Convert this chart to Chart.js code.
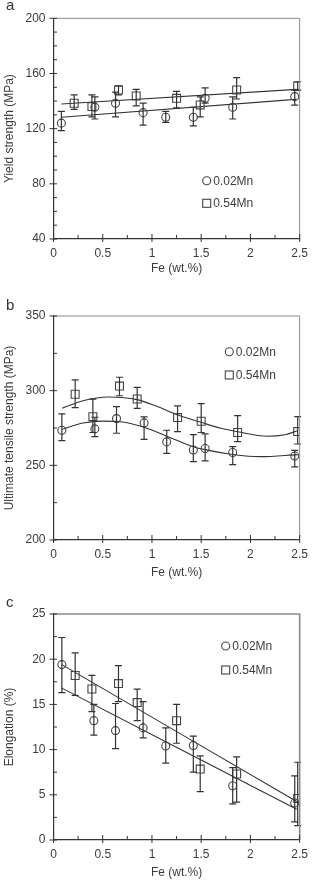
<!DOCTYPE html>
<html lang="en">
<head>
<meta charset="UTF-8">
<title>Fe content vs. yield, UTS and elongation</title>
<style>
  body { margin: 0; background: #fff; font-family: 'Liberation Sans', Arial, sans-serif; }
  #wrap { position: relative; width: 315px; height: 881px; }
  .panel { position: absolute; left: 0; width: 315px; }
  .tag { position: absolute; left: 6px; font-size: 15px; line-height: 16px; color: #333; }
</style>
</head>
<body>
<div id="wrap">
  <div class="panel" style="top:0;height:290px"><canvas id="chartA"></canvas></div>
  <div class="panel" style="top:290px;height:290px"><canvas id="chartB"></canvas></div>
  <div class="panel" style="top:580px;height:301px"><canvas id="chartC"></canvas></div>
  <div class="tag" style="top:-3px">a</div>
  <div class="tag" style="top:297px">b</div>
  <div class="tag" style="top:594px">c</div>
</div>

<script src="https://cdn.jsdelivr.net/npm/chart.js"></script>
<script>
// shared x axis
const feTicks = [0, 0.5, 1, 1.5, 2, 2.5];

// (a) yield strength, MPa
const ysTicks = [40, 80, 120, 160, 200];
const ysFe002 = [0.08, 0.42, 0.63, 0.91, 1.14, 1.42, 1.54, 1.82, 2.45];
const ys002   = [124, 135.5, 138.4, 131.6, 128.3, 128.3, 142, 135.5, 143.2];
const ys002Hi = [132.5, 143, 146.5, 138.5, 132.5, 135.5, 149.5, 143, 148];
const ys002Lo = [118.5, 127, 128.5, 122.5, 124.5, 122, 138.5, 127, 137];
const ysFe054 = [0.21, 0.39, 0.66, 0.84, 1.25, 1.49, 1.86, 2.48];
const ys054   = [138.4, 136, 148, 143.7, 142, 137.2, 148, 151];
const ys054Hi = [144.5, 144.5, 151, 148.5, 147, 143, 157, 154];
const ys054Lo = [134, 128.5, 144.5, 136.5, 135, 128.5, 141.5, 148];
const ysFitFe = [0.08, 2.47];
const ysFit002 = [128.3, 141.3];
const ysFit054 = [137.9, 148.5];

// (b) ultimate tensile strength, MPa
const utsTicks = [200, 250, 300, 350];
const utsFe002 = [0.085, 0.42, 0.64, 0.92, 1.15, 1.42, 1.54, 1.82, 2.45];
const uts002   = [273.5, 274.4, 281.3, 278.4, 265.7, 260.3, 261.3, 258.6, 256.3];
const uts002Hi = [284.4, 282.2, 289.3, 282.4, 273.5, 270.5, 271, 262.5, 260];
const uts002Lo = [266.5, 269.2, 271.5, 267.4, 258, 252.5, 253, 250.5, 249];
const utsFe054 = [0.22, 0.40, 0.67, 0.85, 1.26, 1.50, 1.87, 2.48];
const uts054   = [297.6, 282.6, 303.1, 294.4, 282, 279.5, 272, 272.6];
const uts054Hi = [307.2, 294.4, 309, 302.2, 289.8, 291.3, 283.3, 282.6];
const uts054Lo = [288.6, 272, 296.6, 288.2, 272.6, 272, 265.9, 264.3];
const utsFitFe002 = [0.09, 0.3, 0.5, 0.7, 0.92, 1.15, 1.42, 1.54, 1.82, 2.1, 2.48];
const utsFit002   = [274.2, 278.3, 279.6, 279, 275.5, 269.5, 262.5, 260.5, 257.3, 255.8, 257.2];
const utsFitFe054 = [0.09, 0.3, 0.56, 0.85, 1.05, 1.25, 1.5, 1.7, 1.87, 2.17, 2.35, 2.48];
const utsFit054   = [288.3, 293.3, 295.8, 294, 289.5, 284, 278.8, 274.8, 272.5, 269.5, 270.5, 273.2];

// (c) elongation, %
const elTicks = [0, 5, 10, 15, 20, 25];
const elFe002 = [0.085, 0.41, 0.63, 0.91, 1.14, 1.42, 1.82, 2.45];
const el002   = [19.4, 13.2, 12.1, 12.4, 10.4, 10.45, 6.0, 4.1];
const el002Hi = [22.4, 15.0, 15.1, 15.3, 12.4, 11.5, 8.0, 7.1];
const el002Lo = [16.3, 11.6, 10.1, 11.3, 8.5, 7.5, 4.0, 2.0];
const elFe054 = [0.22, 0.39, 0.66, 0.85, 1.25, 1.49, 1.86, 2.48];
const el054   = [18.2, 16.7, 17.3, 15.2, 13.2, 7.85, 7.3, 4.6];
const el054Hi = [20.7, 18.2, 19.3, 16.7, 15.0, 9.3, 9.2, 8.6];
const el054Lo = [16.0, 14.2, 15.3, 13.2, 10.7, 5.35, 4.2, 1.6];
const elFitFe = [0.085, 2.47];
const elFit002 = [16.8, 3.4];
const elFit054 = [19.4, 4.25];

const seriesNames = ['0.02Mn', '0.54Mn'];

const ink = '#333';
const txt = '#3c3c3c';
const font = { family: "'Liberation Sans', Arial, sans-serif", size: 12 };
const pts = (xs, ys) => xs.map((x, i) => ({ x, y: ys[i] }));

// error bars, frame, ticks and in-plot legend
const panelDeco = {
  id: 'panelDeco',
  afterDatasetsDraw(chart, args, opts) {
    const { ctx, chartArea: a, scales: { x, y } } = chart;
    ctx.save();

    ctx.strokeStyle = ink;
    ctx.lineWidth = 1.2;
    chart.data.datasets.forEach(ds => {
      if (!ds.hi) return;
      ds.data.forEach((p, i) => {
        const px = x.getPixelForValue(p.x);
        const top = y.getPixelForValue(ds.hi[i]);
        const bot = y.getPixelForValue(ds.lo[i]);
        ctx.beginPath();
        ctx.moveTo(px, top); ctx.lineTo(px, bot);
        ctx.moveTo(px - 3.5, top); ctx.lineTo(px + 3.5, top);
        ctx.moveTo(px - 3.5, bot); ctx.lineTo(px + 3.5, bot);
        ctx.stroke();
      });
    });

    // light top / right frame
    ctx.strokeStyle = '#8a8a8a';
    ctx.lineWidth = opts.frameW || 1;
    ctx.beginPath();
    ctx.moveTo(a.left, a.top); ctx.lineTo(a.right, a.top); ctx.lineTo(a.right, a.bottom);
    ctx.stroke();

    // ticks: major cross the axis, minor point inwards
    ctx.strokeStyle = ink;
    ctx.lineWidth = 1;
    ctx.beginPath();
    const yt = y.ticks.map(t => t.value);
    yt.forEach((v, i) => {
      const py = y.getPixelForValue(v);
      ctx.moveTo(a.left - 4, py); ctx.lineTo(a.left + 3.5, py);
      if (i < yt.length - 1) {
        for (let k = 1; k <= opts.minorY; k++) {
          const m = y.getPixelForValue(v + (yt[i + 1] - v) * k / (opts.minorY + 1));
          ctx.moveTo(a.left, m); ctx.lineTo(a.left + 3.5, m);
        }
      }
    });
    const xt = x.ticks.map(t => t.value);
    xt.forEach((v, i) => {
      const px = x.getPixelForValue(v);
      ctx.moveTo(px, a.bottom + 3); ctx.lineTo(px, a.bottom - 5);
      if (i < xt.length - 1) {
        const m = x.getPixelForValue((v + xt[i + 1]) / 2);
        ctx.moveTo(m, a.bottom); ctx.lineTo(m, a.bottom - 4);
      }
    });
    ctx.stroke();

    // legend
    const L = opts.legend;
    ctx.strokeStyle = '#444';
    ctx.lineWidth = 1.1;
    ctx.beginPath();
    ctx.arc(L.x, L.y, 4, 0, Math.PI * 2);
    ctx.stroke();
    ctx.strokeRect(L.x - 4, L.y + L.dy - 4, 8, 8);
    ctx.fillStyle = txt;
    ctx.font = '12px ' + font.family;
    ctx.textBaseline = 'middle';
    ctx.textAlign = 'left';
    ctx.fillText(seriesNames[0], L.x + 6.5, L.y + 0.5);
    ctx.fillText(seriesNames[1], L.x + 6.5, L.y + L.dy + 0.5);

    ctx.restore();
  }
};

function buildPanel(id, p) {
  const marker = {
    showLine: false,
    borderColor: '#444',
    backgroundColor: 'rgba(0,0,0,0)',
    pointBorderWidth: 1.1,
    pointHoverRadius: 4
  };
  const fit = {
    showLine: true,
    pointRadius: 0,
    pointHitRadius: 0,
    borderColor: ink,
    borderWidth: 1.1,
    fill: false,
    cubicInterpolationMode: 'monotone'
  };
  const datasets = [
    Object.assign({ label: seriesNames[0], data: pts(p.fe002, p.v002), hi: p.hi002, lo: p.lo002,
      pointStyle: 'circle', pointRadius: 4 }, marker),
    Object.assign({ label: seriesNames[1], data: pts(p.fe054, p.v054), hi: p.hi054, lo: p.lo054,
      pointStyle: 'rect', pointRadius: 5.6 }, marker),
    Object.assign({ label: 'fit 0.02Mn', data: pts(p.fitFe002, p.fit002) }, fit),
    Object.assign({ label: 'fit 0.54Mn', data: pts(p.fitFe054, p.fit054) }, fit)
  ];

  new Chart(document.getElementById(id), {
    type: 'scatter',
    data: { datasets },
    options: {
      responsive: true,
      maintainAspectRatio: false,
      animation: false,
      layout: { padding: p.pad },
      plugins: {
        legend: { display: false },
        tooltip: { enabled: false },
        panelDeco: { minorY: p.minorY, legend: p.legend, frameW: p.frameW }
      },
      scales: {
        x: {
          type: 'linear',
          min: 0, max: 2.5,
          afterBuildTicks: s => { s.ticks = feTicks.map(v => ({ value: v })); },
          afterFit: s => { s.height = p.xH; },
          ticks: { callback: v => String(v), font, color: txt, padding: 7, maxRotation: 0 },
          grid: { display: false, drawTicks: false },
          border: { color: ink, width: 1.2 },
          title: { display: true, text: 'Fe (wt.%)', font, color: txt, padding: 0 }
        },
        y: {
          type: 'linear',
          min: p.yTicks[0], max: p.yTicks[p.yTicks.length - 1],
          afterBuildTicks: s => { s.ticks = p.yTicks.map(v => ({ value: v })); },
          afterFit: s => { s.width = 53.5; },
          ticks: { callback: v => String(v), font, color: txt, padding: 8 },
          grid: { display: false, drawTicks: false },
          border: { color: ink, width: 1.2 },
          title: { display: true, text: p.yTitle, font, color: txt, padding: { top: 2.5, bottom: 0 } }
        }
      }
    },
    plugins: [panelDeco]
  });
}

buildPanel('chartA', {
  yTicks: ysTicks, yTitle: 'Yield strength (MPa)', minorY: 3,
  fe002: ysFe002, v002: ys002, hi002: ys002Hi, lo002: ys002Lo,
  fe054: ysFe054, v054: ys054, hi054: ys054Hi, lo054: ys054Lo,
  fitFe002: ysFitFe, fit002: ysFit002, fitFe054: ysFitFe, fit054: ysFit054,
  pad: { left: 0, top: 18.3, right: 8.3, bottom: 13.8 }, xH: 37.2,
  legend: { x: 206.7, y: 180.7, dy: 22.6 }
});

buildPanel('chartB', {
  yTicks: utsTicks, yTitle: 'Ultimate tensile strength (MPa)', minorY: 1,
  fe002: utsFe002, v002: uts002, hi002: uts002Hi, lo002: uts002Lo,
  fe054: utsFe054, v054: uts054, hi054: uts054Hi, lo054: uts054Lo,
  fitFe002: utsFitFe002, fit002: utsFit002, fitFe054: utsFitFe054, fit054: utsFit054,
  pad: { left: 0, top: 26, right: 8.3, bottom: 0 }, xH: 40,
  legend: { x: 229.3, y: 61.7, dy: 23.3 }
});

buildPanel('chartC', {
  yTicks: elTicks, yTitle: 'Elongation (%)', minorY: 1,
  fe002: elFe002, v002: el002, hi002: el002Hi, lo002: el002Lo,
  fe054: elFe054, v054: el054, hi054: el054Hi, lo054: el054Lo,
  fitFe002: elFitFe, fit002: elFit002, fitFe054: elFitFe, fit054: elFit054,
  pad: { left: 0, top: 34, right: 8.3, bottom: 1 }, xH: 40, frameW: 1.6,
  legend: { x: 225.7, y: 66, dy: 24 }
});
</script>
</body>
</html>
